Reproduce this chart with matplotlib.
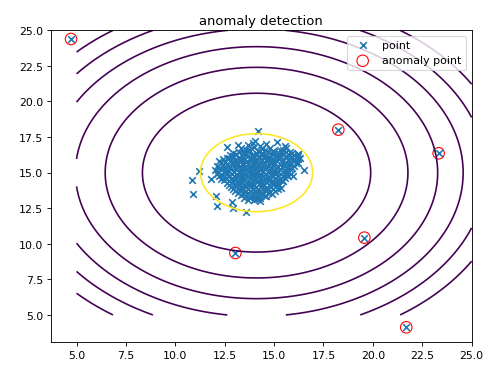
#!/usr/bin/env python3
"""Anomaly detection: 2-D Gaussian density contours plus the flagged outliers."""
import numpy as np
import matplotlib
matplotlib.use('Agg')
import matplotlib.pyplot as plt

# Gaussian fitted on the data (mean, variance per feature)
mu = [14.112, 14.998]
sigma2 = [1.833, 1.710]
levels = [1e-20, 1e-17, 1e-14, 1e-11, 1e-8, 1e-5, 1e-2]

# normal samples, roughly row by row from top to bottom of the cluster
normal_x = [
    13.7, 13.95, 14.3, 14.6, 14.04, 14.18, 15.14, 15.56,
    13.3, 13.6, 14.0, 14.4, 14.8, 15.3, 15.6, 12.61, 13.16,
    13.45, 13.75, 14.2, 14.55, 14.95, 15.45, 15.8,
    12.9, 13.2, 13.5, 13.8, 14.1, 14.4, 14.7, 15.0, 15.3, 15.6, 15.9, 16.2,
    12.75, 13.05, 13.35, 13.6, 13.9, 14.15, 14.4, 14.65, 14.95, 15.2, 15.45, 15.75, 16.0, 16.2,
    12.6, 12.9, 13.2, 13.45, 13.7, 14.0, 14.25, 14.5, 14.8, 15.05, 15.3, 15.6, 15.85, 16.1, 16.3,
    12.4, 12.7, 13.0, 13.3, 13.55, 13.85, 14.1, 14.4, 14.65, 14.95, 15.2, 15.45, 15.75, 16.0, 16.2,
    12.2, 12.5, 12.8, 13.05, 13.3, 13.6, 13.85, 14.1, 14.35, 14.6, 14.9, 15.15, 15.4, 15.7, 15.95, 16.2,
    12.3, 12.6, 12.9, 13.15, 13.45, 13.7, 13.95, 14.25, 14.5, 14.75, 15.05, 15.3, 15.55, 15.85, 16.1,
    12.1, 12.4, 12.65, 12.9, 13.2, 13.45, 13.7, 13.95, 14.2, 14.45, 14.7, 14.95, 15.2, 15.5, 15.75, 16.0,
    12.2, 12.5, 12.75, 13.0, 13.3, 13.55, 13.8, 14.1, 14.35, 14.6, 14.85, 15.1, 15.4, 15.65, 15.9,
    12.0, 12.3, 12.55, 12.8, 13.05, 13.3, 13.55, 13.8, 14.05, 14.3, 14.55, 14.8, 15.05, 15.3, 15.55, 15.8,
    12.15, 12.45, 12.7, 12.95, 13.2, 13.45, 13.7, 13.95, 14.2, 14.45, 14.7, 14.95, 15.2, 15.45, 15.7,
    12.1, 12.35, 12.6, 12.85, 13.1, 13.35, 13.6, 13.85, 14.1, 14.35, 14.6, 14.85, 15.1, 15.35, 15.6, 15.85,
    12.2, 12.45, 12.7, 12.95, 13.2, 13.45, 13.7, 13.95, 14.2, 14.45, 14.7, 14.95, 15.2, 15.45, 15.7,
    12.3, 12.55, 12.8, 13.05, 13.3, 13.55, 13.8, 14.05, 14.3, 14.55, 14.8, 15.05, 15.3, 15.55, 15.98,
    12.45, 12.7, 12.95, 13.2, 13.45, 13.7, 13.95, 14.2, 14.45, 14.7, 14.95, 15.2, 15.45,
    12.6, 12.9, 13.15, 13.4, 13.65, 13.9, 14.15, 14.4, 14.65, 14.9, 15.15, 15.4,
    12.7, 13.0, 13.25, 13.5, 13.75, 14.0, 14.25, 14.5, 14.75, 15.0, 15.25,
    12.8, 13.1, 13.35, 13.6, 13.85, 14.1, 14.35, 14.6, 14.85, 15.1, 15.35,
    12.9, 13.2, 13.45, 13.7, 13.95, 14.2, 14.45, 14.7, 14.95, 15.2,
    13.0, 13.3, 13.55, 13.8, 14.05, 14.3, 14.55, 14.8, 15.05,
    13.15, 13.45, 13.7, 13.95, 14.2, 14.45, 14.7, 14.9,
    13.3, 13.6, 13.85, 14.1, 14.35, 14.6, 14.55, 12.07,
    13.5, 13.8, 14.05, 14.3,
    13.7, 14.0, 14.3, 14.12, 12.13, 12.89, 12.94, 13.58,
    10.85, 10.89, 11.22, 11.80, 16.52, 16.23,
]
normal_y = [
    16.95, 17.05, 16.9, 17.0, 17.24, 17.9, 17.17, 16.89,
    16.72, 16.6, 16.78, 16.65, 16.75, 16.62, 16.7, 16.82, 16.96,
    16.55, 16.6, 16.52, 16.58, 16.5, 16.56, 16.48,
    16.38, 16.45, 16.32, 16.5, 16.4, 16.35, 16.48, 16.42, 16.3, 16.46, 16.36, 16.31,
    16.25, 16.3, 16.22, 16.28, 16.24, 16.32, 16.26, 16.2, 16.3, 16.24, 16.28, 16.22, 16.27, 16.2,
    16.05, 16.15, 16.0, 16.12, 16.2, 16.05, 16.1, 16.18, 16.02, 16.14, 16.08, 16.2, 16.0, 16.12, 16.06,
    15.95, 16.0, 15.92, 15.98, 15.94, 16.0, 15.96, 15.9, 15.98, 15.94, 16.0, 15.92, 15.97, 15.93, 15.96,
    15.82, 15.75, 15.88, 15.7, 15.85, 15.78, 15.9, 15.72, 15.8, 15.86, 15.74, 15.84, 15.76, 15.9, 15.8, 15.7,
    15.65, 15.62, 15.68, 15.6, 15.66, 15.64, 15.7, 15.62, 15.67, 15.6, 15.66, 15.63, 15.68, 15.62, 15.65,
    15.45, 15.55, 15.48, 15.6, 15.42, 15.52, 15.58, 15.44, 15.5, 15.56, 15.46, 15.54, 15.4, 15.5, 15.58, 15.45,
    15.35, 15.32, 15.38, 15.33, 15.36, 15.3, 15.37, 15.34, 15.31, 15.38, 15.35, 15.32, 15.37, 15.33, 15.36,
    15.18, 15.25, 15.12, 15.22, 15.28, 15.15, 15.2, 15.1, 15.26, 15.18, 15.24, 15.12, 15.2, 15.28, 15.14, 15.22,
    15.05, 15.02, 15.08, 15.04, 15.06, 15.0, 15.07, 15.03, 15.05, 15.08, 15.02, 15.06, 15.04, 15.07, 15.03,
    14.92, 14.85, 14.95, 14.88, 14.82, 14.96, 14.9, 14.84, 14.98, 14.86, 14.92, 14.8, 14.94, 14.88, 14.84, 14.9,
    14.75, 14.72, 14.78, 14.74, 14.76, 14.7, 14.77, 14.73, 14.75, 14.78, 14.72, 14.76, 14.74, 14.77, 14.73,
    14.58, 14.65, 14.55, 14.62, 14.68, 14.52, 14.6, 14.66, 14.54, 14.62, 14.58, 14.64, 14.56, 14.6, 14.78,
    14.45, 14.42, 14.48, 14.44, 14.46, 14.4, 14.47, 14.43, 14.45, 14.48, 14.42, 14.46, 14.44,
    14.28, 14.35, 14.25, 14.32, 14.22, 14.3, 14.36, 14.26, 14.34, 14.24, 14.3, 14.38,
    14.15, 14.12, 14.18, 14.14, 14.16, 14.1, 14.17, 14.13, 14.15, 14.18, 14.12,
    13.98, 14.05, 13.95, 14.02, 14.08, 13.96, 14.04, 13.92, 14.0, 14.06, 13.94,
    13.85, 13.82, 13.88, 13.84, 13.86, 13.8, 13.87, 13.83, 13.85, 13.88,
    13.68, 13.75, 13.65, 13.72, 13.62, 13.7, 13.76, 13.66, 13.72,
    13.55, 13.52, 13.58, 13.54, 13.56, 13.5, 13.57, 13.53,
    13.42, 13.35, 13.45, 13.38, 13.44, 13.36, 13.38, 13.38,
    13.25, 13.22, 13.28, 13.24,
    13.05, 13.1, 13.0, 13.15, 12.67, 12.96, 12.49, 12.25,
    14.48, 13.50, 15.13, 14.55, 15.2, 16.31,
]

# points whose density falls below epsilon
anomaly_x = [4.72, 18.25, 23.33, 19.57, 13.04, 21.69]
anomaly_y = [24.39, 18.02, 16.36, 10.43, 9.35, 4.13]


def gaussian(xx, yy):
    px = np.exp(-(xx - mu[0]) ** 2 / (2 * sigma2[0])) / np.sqrt(2 * np.pi * sigma2[0])
    py = np.exp(-(yy - mu[1]) ** 2 / (2 * sigma2[1])) / np.sqrt(2 * np.pi * sigma2[1])
    return px * py


grid = np.linspace(5, 25, 401)
xx, yy = np.meshgrid(grid, grid)
zz = gaussian(xx, yy)

fig, ax = plt.subplots(figsize=(6.4, 4.75), dpi=78.9)
fig.subplots_adjust(left=0.101, right=0.934, top=0.917, bottom=0.085)

ax.contour(xx, yy, zz, levels=levels)
ax.scatter(normal_x + anomaly_x, normal_y + anomaly_y, marker='x', label='point')
ax.scatter(anomaly_x, anomaly_y, s=110, facecolors='none', edgecolors='r',
           label='anomaly point')
ax.set_title('anomaly detection')
ax.legend(loc='upper right')

plt.savefig('out.png', dpi=78.9)
